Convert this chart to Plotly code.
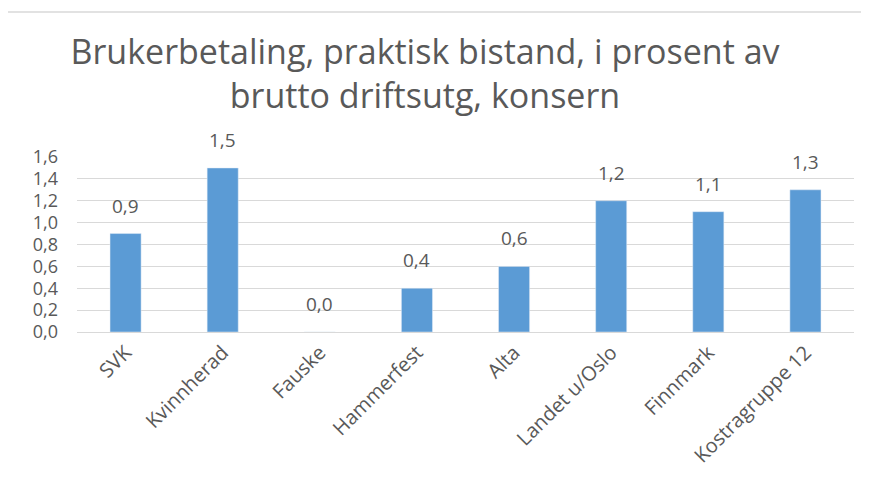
import plotly.graph_objects as go

categories = ["SVK", "Kvinnherad", "Fauske", "Hammerfest", "Alta", "Landet u/Oslo", "Finnmark", "Kostragruppe 12"]
values = [0.9, 1.5, 0.0, 0.4, 0.6, 1.2, 1.1, 1.3]
labels = [f"{v:.1f}".replace(".", ",") for v in values]
tick_vals = [0, 0.2, 0.4, 0.6, 0.8, 1.0, 1.2, 1.4, 1.6]
tick_text = [f"{v:.1f}".replace(".", ",") for v in tick_vals]
title_text = "Brukerbetaling, praktisk bistand, i prosent av<br>brutto driftsutg, konsern"

FONT = "Open Sans, Carlito, Calibri, sans-serif"
GRAY = "#595959"

OFF = 8  # page body margin
W, H = 869 - OFF, 490 - OFF
ml, mr, mt, mb = 77 - OFF, 15, 157 - OFF, 158
pw, ph = W - ml - mr, H - mt - mb


def py(px):
    return 1 - (px - OFF - mt) / ph


def pxx(px):
    return (px - OFF - ml) / pw


fig = go.Figure(go.Bar(
    x=categories, y=values, marker_color="#5B9BD5", width=0.32,
    hoverinfo="skip",
))

for c, v, t in zip(categories, values, labels):
    fig.add_annotation(x=c, y=v, text=t, showarrow=False, yanchor="bottom",
                       yshift=13, font=dict(family=FONT, size=19, color=GRAY))

fig.add_shape(type="rect", xref="paper", yref="paper",
              x0=pxx(5), x1=1.5, y0=-2, y1=py(12),
              line=dict(color="#D9D9D9", width=1.5), fillcolor="rgba(0,0,0,0)", layer="below")

fig.update_layout(
    width=W, height=H,
    margin=dict(l=ml, r=mr, t=mt, b=mb),
    paper_bgcolor="white", plot_bgcolor="white",
    showlegend=False,
    title=dict(text=title_text, x=(425 - OFF) / W, xanchor="center",
               y=1 - (64 - OFF) / H, yanchor="top",
               font=dict(family=FONT, size=34, color=GRAY)),
    xaxis=dict(tickangle=-45, tickfont=dict(family=FONT, size=20, color=GRAY),
               showgrid=False, showline=False, ticks="", ticklabelstandoff=4,
               automargin=False),
    yaxis=dict(range=[0, 1.6], tickvals=tick_vals, ticktext=tick_text,
               tickfont=dict(family=FONT, size=18, color=GRAY),
               showgrid=True, gridcolor="#D9D9D9", gridwidth=1.2,
               zeroline=True, zerolinecolor="#D9D9D9", zerolinewidth=1.2,
               showline=False, ticks="", ticklabelstandoff=18, automargin=False),
)

fig.write_html("out.html")
